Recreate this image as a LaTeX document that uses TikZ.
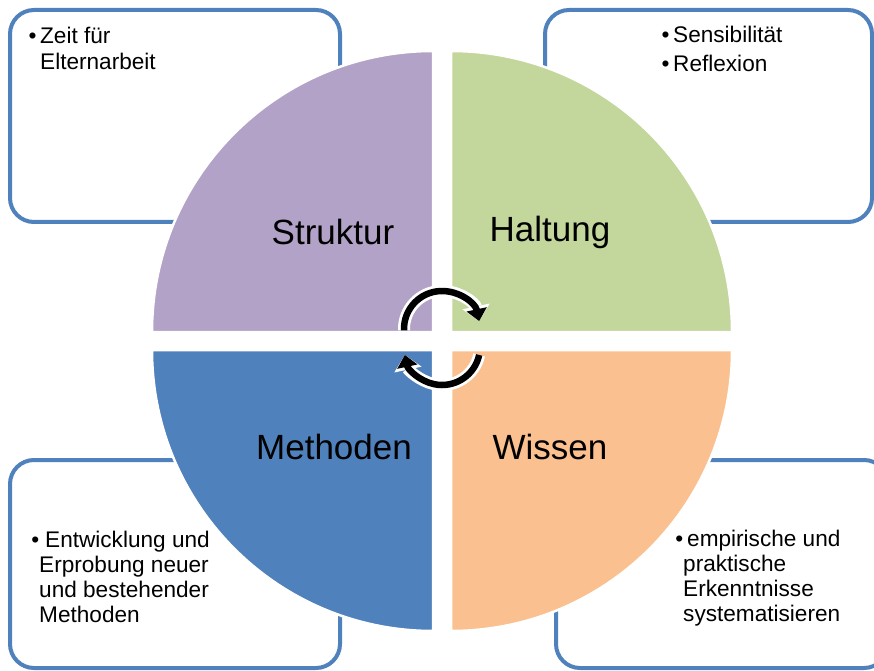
\documentclass[tikz,border=0pt]{standalone}
\usepackage{fontspec}
\setmainfont{Liberation Sans}
\usepackage{xcolor}
\usepackage{tikz}
\usetikzlibrary{arrows.meta}
\definecolor{framecol}{HTML}{4F81BD}
\definecolor{strukturcol}{HTML}{B3A2C7}
\definecolor{haltungcol}{HTML}{C3D69B}
\definecolor{methodencol}{HTML}{4F81BD}
\definecolor{wissencol}{HTML}{FAC090}

\begin{document}
\begin{tikzpicture}[
        x=1pt, y=1pt,
        infobox/.style={
            draw=framecol,
            fill=white,
            line width=4pt,
            rounded corners=24pt
        },
        quarter/.style={
            draw=white,
            line width=2.5pt
        },
        label/.style={
            font=\fontsize{35}{40}\selectfont,
            inner sep=0pt
        },
        notes/.style={
            font=\fontsize{22.6}{25}\selectfont,
            align=left,
            anchor=base west,
            inner sep=0pt
        },
        halo/.style={draw=white, line width=12pt, -{Triangle[length=15pt,width=27pt]}},
        cyclearrow/.style={draw=black, line width=6.5pt, -{Triangle[length=12pt,width=20pt]}}
    ]
        \useasboundingbox (0,0) rectangle (874,670);

        % boxes behind the circle
        \draw[infobox] (10,448) rectangle (340,660);
        \draw[infobox] (545,448) rectangle (872,660);
        \draw[infobox] (10,2) rectangle (340,210);
        \draw[infobox] (556,2) rectangle (888,210);

        % the four quarters
        \filldraw[quarter, fill=strukturcol] (433,338) -- ++(-281,0) arc (180:90:281) -- cycle;
        \filldraw[quarter, fill=haltungcol] (451,338) -- ++(0,281) arc (90:0:281) -- cycle;
        \filldraw[quarter, fill=methodencol] (433,320) -- ++(-281,0) arc (180:270:281) -- cycle;
        \filldraw[quarter, fill=wissencol] (451,320) -- ++(281,0) arc (0:-90:281) -- cycle;

        \node[label] (struktur) at (333,438) {Struktur};
        \node[label] (haltung) at (550,438) {Haltung};
        \node[label] (methoden) at (334,223) {Methoden};
        \node[label] (wissen) at (550,223) {Wissen};

        % box texts (base = last line)
        \node[notes] (zeit) at (40,600) {\llap{\textbullet\,}Zeit für\\[1pt]Elternarbeit};
        \node[notes] (sensi) at (673,598) {\llap{\textbullet\,}Sensibilität\\[4pt]\llap{\textbullet\,}Reflexion};
        \node[notes] (entw) at (39,48) {\llap{\textbullet}\hspace{6pt}Entwicklung und\\Erprobung neuer\\und bestehender\\Methoden};
        \node[notes] (empi) at (683,49) {\llap{\textbullet}\hspace{4pt}empirische und\\praktische\\Erkenntnisse\\systematisieren};

        % cycle arrows
        \coordinate (top) at (442,341);
        \coordinate (bottom) at (442,323);
        \draw[halo] (top) ++(182:38) arc (182:12:38);
        \draw[cyclearrow] (top) ++(182:38) arc (182:12:38);
        \draw[halo] (bottom) ++(-12:38) arc (-12:-168:38);
        \draw[cyclearrow] (bottom) ++(-12:38) arc (-12:-168:38);
    \end{tikzpicture}
\end{document}
